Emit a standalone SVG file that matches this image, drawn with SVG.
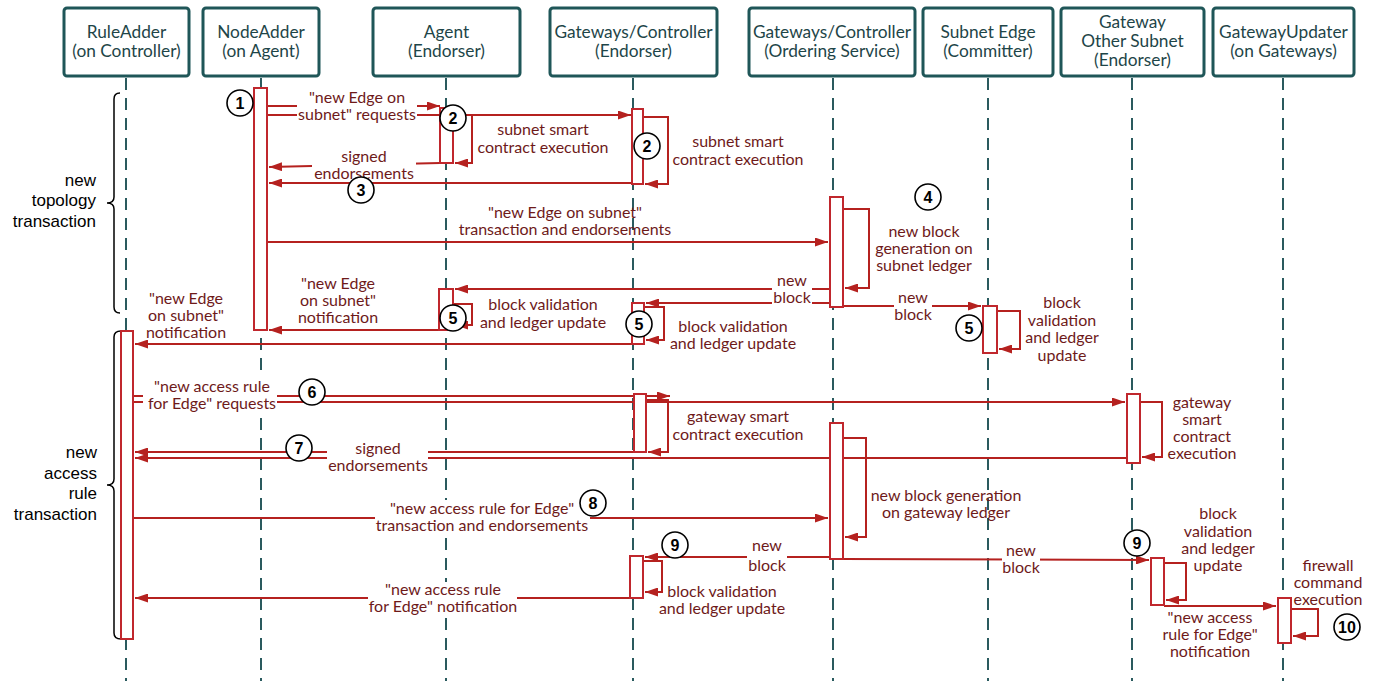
<svg xmlns="http://www.w3.org/2000/svg" width="1384" height="681" viewBox="0 0 1384 681">
<defs>
<marker id="ah" markerUnits="userSpaceOnUse" markerWidth="13" markerHeight="9" refX="13" refY="4.5" orient="auto"><path d="M0,0 L13,4.5 L0,9 z" fill="#b5211f"/></marker>
<style>
.hb{fill:#fff;stroke:#1f5658;stroke-width:3}
.ht{font-family:Lato,"Open Sans",sans-serif;font-size:17.3px;fill:#1e4548;text-anchor:middle}
.ll{stroke:#2a5a5e;stroke-width:2;stroke-dasharray:12 8;fill:none}
.c{stroke:#b5211f;stroke-width:2;fill:none;marker-end:url(#ah)}
.bar{fill:#fff;stroke:#c0272d;stroke-width:2}
.lb{font-family:Lato,"Open Sans",sans-serif;font-size:16px;fill:#6e1a1a;text-anchor:middle}
.bg{fill:#fff}
.st circle{fill:#fff;stroke:#000;stroke-width:1.6}
.st text{font-family:"Liberation Sans",Arial,sans-serif;font-weight:bold;font-size:16px;fill:#000;text-anchor:middle}
.br{fill:none;stroke:#000;stroke-width:1.5}
.bt{font-family:"Liberation Sans",Arial,sans-serif;font-size:17px;fill:#000;text-anchor:end}
</style>
</defs>
<rect width="1384" height="681" fill="#fff"/>

<g id="ruleadder"><rect class="hb" x="64" y="8" width="125" height="68" rx="3"/><text class="ht" x="126.5" y="38">RuleAdder</text><text class="ht" x="126.5" y="57">(on Controller)</text><line class="ll" x1="126" y1="78" x2="126" y2="681"/></g>
<g id="nodeadder"><rect class="hb" x="203" y="8" width="116" height="68" rx="3"/><text class="ht" x="261" y="38">NodeAdder</text><text class="ht" x="261" y="57">(on Agent)</text><line class="ll" x1="261" y1="78" x2="261" y2="681"/></g>
<g id="agent"><rect class="hb" x="373" y="8" width="147" height="68" rx="3"/><text class="ht" x="446.5" y="38">Agent</text><text class="ht" x="446.5" y="57">(Endorser)</text><line class="ll" x1="446" y1="78" x2="446" y2="681"/></g>
<g id="gc-endorser"><rect class="hb" x="550" y="8" width="167" height="68" rx="3"/><text class="ht" x="633.5" y="38">Gateways/Controller</text><text class="ht" x="633.5" y="57">(Endorser)</text><line class="ll" x1="633" y1="78" x2="633" y2="681"/></g>
<g id="gc-ordering"><rect class="hb" x="749" y="8" width="166" height="68" rx="3"/><text class="ht" x="832" y="38">Gateways/Controller</text><text class="ht" x="832" y="57">(Ordering Service)</text><line class="ll" x1="833" y1="78" x2="833" y2="681"/></g>
<g id="subnet-edge"><rect class="hb" x="923" y="8" width="130" height="68" rx="3"/><text class="ht" x="988" y="38">Subnet Edge</text><text class="ht" x="988" y="57">(Committer)</text><line class="ll" x1="988" y1="78" x2="988" y2="681"/></g>
<g id="gw-other"><rect class="hb" x="1061" y="8" width="143" height="68" rx="3"/><text class="ht" x="1132.5" y="28">Gateway</text><text class="ht" x="1132.5" y="47">Other Subnet</text><text class="ht" x="1132.5" y="66">(Endorser)</text><line class="ll" x1="1132" y1="78" x2="1132" y2="681"/></g>
<g id="gw-updater"><rect class="hb" x="1213" y="8" width="141" height="68" rx="3"/><text class="ht" x="1283.5" y="38">GatewayUpdater</text><text class="ht" x="1283.5" y="57">(on Gateways)</text><line class="ll" x1="1283" y1="78" x2="1283" y2="681"/></g>

<g id="braces">
<path class="br" d="M120,93 Q114,93 114,99 L114,197 Q114,203 107,203 Q114,203 114,209 L114,307 Q114,313 120,313"/>
<text class="bt" x="96" y="186">new</text><text class="bt" x="96" y="206">topology</text><text class="bt" x="96" y="227">transaction</text>
<path class="br" d="M121,331 Q114,331 114,337 L114,479 Q114,485 107,485 Q114,485 114,491 L114,633 Q114,639 121,639"/>
<text class="bt" x="97" y="458">new</text><text class="bt" x="97" y="479">access</text><text class="bt" x="97" y="499">rule</text><text class="bt" x="97" y="520">transaction</text>
</g>

<g id="connectors">
<path class="c" d="M267,106 H440"/>
<path class="c" d="M267,115 H631"/>
<path class="c" d="M453,115 H472 V163 H455"/>
<path class="c" d="M643,117 H668 V184 H645"/>
<path class="c" d="M440,163 L269,167"/>
<path class="c" d="M632,183 H269"/>
<path class="c" d="M267,242 H828"/>
<path class="c" d="M843,209 H869 V288 H845"/>
<path class="c" d="M830,289 H455"/>
<path class="c" d="M830,303 H646"/>
<path class="c" d="M843,306 H981"/>
<path class="c" d="M997,311 H1020 V349 H999"/>
<path class="c" d="M453,304 H472 V325 H455"/>
<path class="c" d="M644,307 H664 V340 H646"/>
<path class="c" d="M439,330 H269"/>
<path class="c" d="M632,344 H135"/>
<path class="c" d="M133,396 H670"/>
<path class="c" d="M133,402 H1125"/>
<path class="c" d="M646,400 H668 V452 H648"/>
<path class="c" d="M1140,402 H1162 V457 H1142"/>
<path class="c" d="M634,452 H135"/>
<path class="c" d="M1127,458 H135"/>
<path class="c" d="M843,438 H866 V537 H845"/>
<path class="c" d="M133,518 H828"/>
<path class="c" d="M830,557 H645"/>
<path class="c" d="M843,559 L1149,560"/>
<path class="c" d="M643,561 H662 V592 H645"/>
<path class="c" d="M630,598 H135"/>
<path class="c" d="M1164,563 H1186 V600 H1166"/>
<path class="c" d="M1164,606 H1276"/>
<path class="c" d="M1291,609 H1318 V636 H1293"/>
</g>

<g id="activations">
<rect class="bar" x="254" y="88" width="13" height="242"/>
<rect class="bar" x="440" y="108" width="13" height="55"/>
<rect class="bar" x="632" y="109" width="11" height="75"/>
<rect class="bar" x="830" y="197" width="13" height="110"/>
<rect class="bar" x="439" y="289" width="14" height="41"/>
<rect class="bar" x="632" y="303" width="12" height="41"/>
<rect class="bar" x="983" y="306" width="14" height="47"/>
<rect class="bar" x="121" y="331" width="12" height="308"/>
<rect class="bar" x="634" y="394" width="12" height="58"/>
<rect class="bar" x="1127" y="394" width="13" height="69"/>
<rect class="bar" x="830" y="423" width="13" height="136"/>
<rect class="bar" x="630" y="556" width="13" height="42"/>
<rect class="bar" x="1151" y="558" width="13" height="47"/>
<rect class="bar" x="1278" y="598" width="13" height="45"/>
</g>

<g id="labels">
<rect class="bg" x="297" y="90" width="120" height="34"/>
<text class="lb" x="357" y="103">"new Edge on</text><text class="lb" x="357" y="120">subnet" requests</text>
<text class="lb" x="543" y="135">subnet smart</text><text class="lb" x="543" y="153">contract execution</text>
<text class="lb" x="738" y="147">subnet smart</text><text class="lb" x="738" y="165">contract execution</text>
<rect class="bg" x="312" y="148" width="104" height="32"/>
<text class="lb" x="364" y="162">signed</text><text class="lb" x="364" y="179">endorsements</text>
<text class="lb" x="565" y="218">"new Edge on subnet"</text><text class="lb" x="565" y="235">transaction and endorsements</text>
<text class="lb" x="924" y="237">new block</text><text class="lb" x="924" y="254">generation on</text><text class="lb" x="924" y="271">subnet ledger</text>
<rect class="bg" x="772" y="272" width="40" height="35"/>
<text class="lb" x="792" y="286">new</text><text class="lb" x="792" y="303">block</text>
<rect class="bg" x="894" y="289" width="38" height="34"/>
<text class="lb" x="913" y="303">new</text><text class="lb" x="913" y="320">block</text>
<text class="lb" x="1062" y="308">block</text><text class="lb" x="1062" y="326">validation</text><text class="lb" x="1062" y="343">and ledger</text><text class="lb" x="1062" y="361">update</text>
<text class="lb" x="543" y="310">block validation</text><text class="lb" x="543" y="328">and ledger update</text>
<text class="lb" x="338" y="289">"new Edge</text><text class="lb" x="338" y="306">on subnet"</text><text class="lb" x="338" y="323">notification</text>
<text class="lb" x="733" y="332">block validation</text><text class="lb" x="733" y="349">and ledger update</text>
<text class="lb" x="186" y="304">"new Edge</text><text class="lb" x="186" y="321">on subnet"</text><text class="lb" x="186" y="338">notification</text>
<rect class="bg" x="143" y="378" width="134" height="34"/>
<text class="lb" x="212" y="392">"new access rule</text><text class="lb" x="212" y="409">for Edge" requests</text>
<text class="lb" x="738" y="422">gateway smart</text><text class="lb" x="738" y="440">contract execution</text>
<text class="lb" x="1202" y="408">gateway</text><text class="lb" x="1202" y="425">smart</text><text class="lb" x="1202" y="442">contract</text><text class="lb" x="1202" y="459">execution</text>
<rect class="bg" x="327" y="440" width="101" height="34"/>
<text class="lb" x="378" y="454">signed</text><text class="lb" x="378" y="471">endorsements</text>
<text class="lb" x="946" y="501">new block generation</text><text class="lb" x="946" y="518">on gateway ledger</text>
<rect class="bg" x="375" y="500" width="215" height="35"/>
<text class="lb" x="482" y="514">"new access rule for Edge"</text><text class="lb" x="482" y="531">transaction and endorsements</text>
<rect class="bg" x="747" y="537" width="40" height="38"/>
<text class="lb" x="767" y="551">new</text><text class="lb" x="767" y="571">block</text>
<text class="lb" x="722" y="597">block validation</text><text class="lb" x="722" y="614">and ledger update</text>
<rect class="bg" x="368" y="582" width="149" height="34"/>
<text class="lb" x="443" y="595">"new access rule</text><text class="lb" x="443" y="612">for Edge" notification</text>
<rect class="bg" x="1002" y="540" width="38" height="37"/>
<text class="lb" x="1021" y="556">new</text><text class="lb" x="1021" y="573">block</text>
<text class="lb" x="1218" y="519">block</text><text class="lb" x="1218" y="537">validation</text><text class="lb" x="1218" y="554">and ledger</text><text class="lb" x="1218" y="571">update</text>
<text class="lb" x="1210" y="623">"new access</text><text class="lb" x="1210" y="640">rule for Edge"</text><text class="lb" x="1210" y="657">notification</text>
<text class="lb" x="1328" y="571">firewall</text><text class="lb" x="1328" y="588">command</text><text class="lb" x="1328" y="605">execution</text>
</g>

<g id="steps" class="st">
<circle cx="240" cy="103" r="13"/><text x="240" y="109">1</text>
<circle cx="453" cy="118" r="13"/><text x="453" y="124">2</text>
<circle cx="647" cy="146" r="13"/><text x="647" y="152">2</text>
<circle cx="361" cy="190" r="13"/><text x="361" y="196">3</text>
<circle cx="928" cy="197" r="13"/><text x="928" y="203">4</text>
<circle cx="453" cy="318" r="13"/><text x="453" y="324">5</text>
<circle cx="639" cy="324" r="13"/><text x="639" y="330">5</text>
<circle cx="969" cy="328" r="13"/><text x="969" y="334">5</text>
<circle cx="312" cy="392" r="13"/><text x="312" y="398">6</text>
<circle cx="299" cy="448" r="13"/><text x="299" y="454">7</text>
<circle cx="593" cy="503" r="13"/><text x="593" y="509">8</text>
<circle cx="675" cy="545" r="13"/><text x="675" y="551">9</text>
<circle cx="1137" cy="543" r="13"/><text x="1137" y="549">9</text>
<circle cx="1347" cy="627" r="13"/><text x="1347" y="633">10</text>
</g>
</svg>
